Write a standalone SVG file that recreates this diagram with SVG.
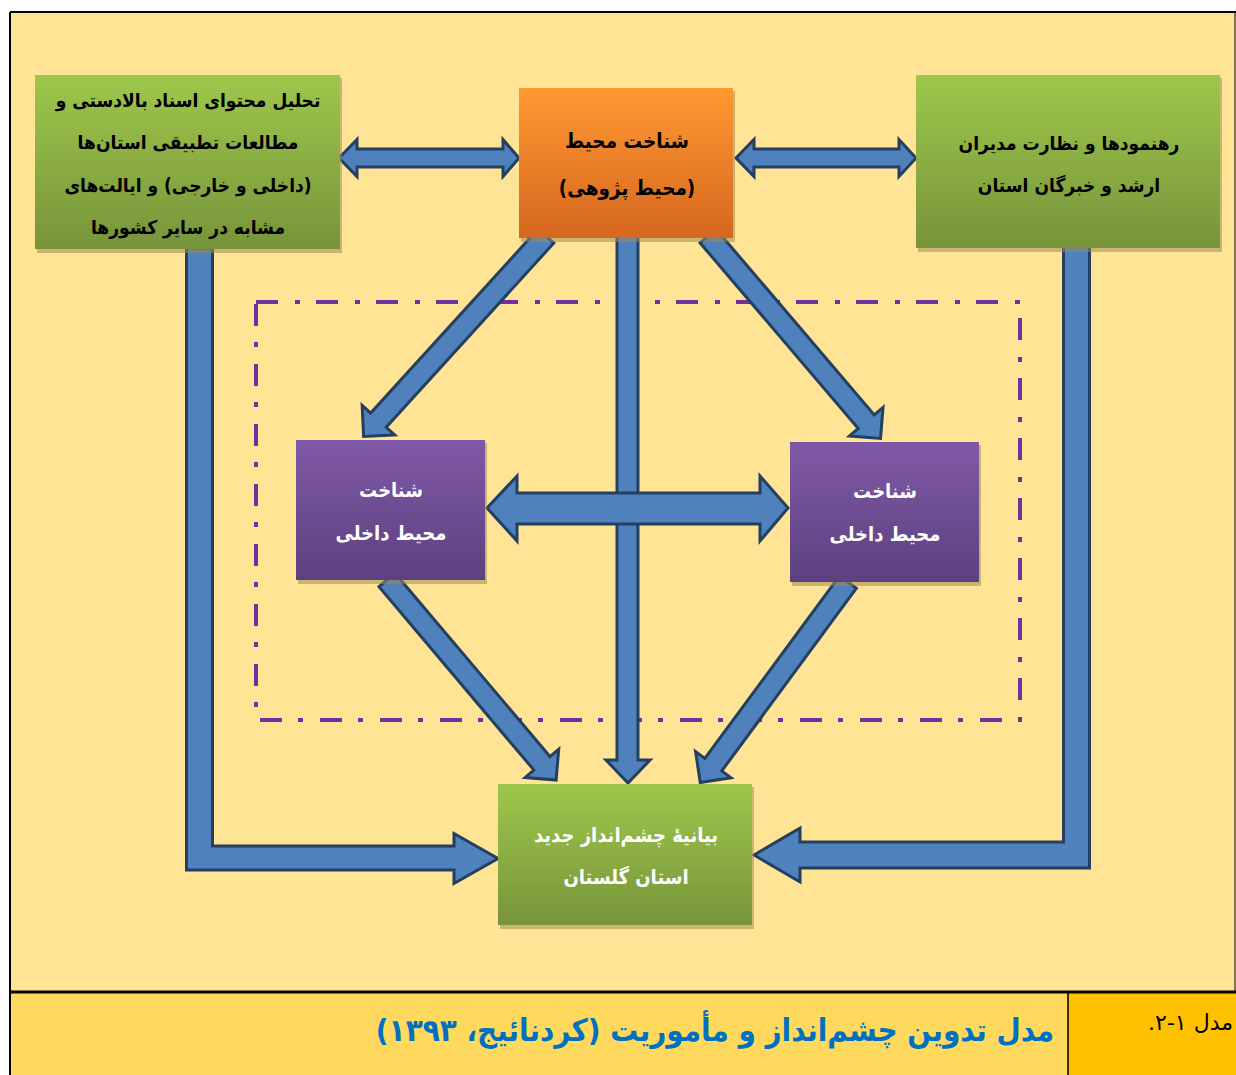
<svg xmlns="http://www.w3.org/2000/svg" width="1236" height="1075" viewBox="0 0 1236 1075">
<defs>
<linearGradient id="gGreen" x1="0" y1="0" x2="0" y2="1"><stop offset="0" stop-color="#9EC74B"/><stop offset="1" stop-color="#77943A"/></linearGradient>
<linearGradient id="gOrange" x1="0" y1="0" x2="0" y2="1"><stop offset="0" stop-color="#FF9831"/><stop offset="1" stop-color="#D6671F"/></linearGradient>
<linearGradient id="gPurple" x1="0" y1="0" x2="0" y2="1"><stop offset="0" stop-color="#7F59A7"/><stop offset="1" stop-color="#5D417F"/></linearGradient>
<style>
.arrow{fill:#4F81BD;stroke:#243F60;stroke-width:3;stroke-linejoin:miter}
.shadow{fill:#A08A55;opacity:0.55}
.t{font-family:"DejaVu Sans Condensed","DejaVu Sans",sans-serif;font-weight:bold;text-anchor:middle;direction:rtl}
.dark{fill:#000}
.light{fill:#fff}
</style>
</defs>
<rect x="0" y="0" width="1236" height="1075" fill="#fff"/>
<rect x="10" y="12" width="1226" height="980" fill="#FFE496"/>
<rect x="10" y="992" width="1058" height="83" fill="#FFD85E"/>
<rect x="1068" y="992" width="168" height="83" fill="#FFC000"/>
<g id="frame" fill="none" stroke="#000">
<path d="M10,12 H1236" stroke-width="2"/>
<path d="M10,12 V1075" stroke-width="2"/>
<path d="M1235,12 V992" stroke-width="1"/>
<path d="M10,992 H1236" stroke-width="3"/>
<path d="M1068,992 V1075" stroke-width="1.5"/>
</g>
<rect id="boundary" x="256" y="302" width="764" height="418" fill="none" stroke="#7030A0" stroke-width="4" stroke-dasharray="22 17 5 16"/>
<g id="connectors">
<path class="arrow" d="M617,236 L638,236 L638,760 L650,760 L628,783 L606,760 L617,760 Z"/>
<path class="arrow" d="M487,508 L517,476 L517,493 L760,493 L760,476 L788,508 L760,541 L760,524 L517,524 L517,541 Z"/>
<path class="arrow" d="M339,158 L357,139.5 L357,149 L503,149 L503,139.5 L519,158 L503,176.5 L503,167 L357,167 L357,176.5 Z"/>
<path class="arrow" d="M736,158 L754,139.5 L754,149 L899,149 L899,139.5 L916,158 L899,176.5 L899,167 L754,167 L754,176.5 Z"/>
<g transform="translate(546,236) rotate(132.3)"><path class="arrow" d="M0,-10.5 L249,-10.5 L249,-22 L271,0 L249,22 L249,10.5 L0,10.5 Z"/></g>
<g transform="translate(708,236) rotate(49.56)"><path class="arrow" d="M0,-10.5 L244,-10.5 L244,-22 L266,0 L244,22 L244,10.5 L0,10.5 Z"/></g>
<g transform="translate(387,580) rotate(49.8)"><path class="arrow" d="M0,-10.5 L240,-10.5 L240,-22 L262,0 L240,22 L240,10.5 L0,10.5 Z"/></g>
<g transform="translate(848,582) rotate(126.4)"><path class="arrow" d="M0,-10.5 L227,-10.5 L227,-22 L249,0 L227,22 L227,10.5 L0,10.5 Z"/></g>
<path class="arrow" d="M186.5,248 L212.5,248 L212.5,846 L454,846 L454,833.5 L498,858.5 L454,883.5 L454,870 L186.5,870 Z"/>
<path class="arrow" d="M1089.5,246 L1063.5,246 L1063.5,842 L800,842 L800,828 L754,855 L800,882 L800,868 L1089.5,868 Z"/>
</g>
<g id="n_left_top">
<rect class="shadow" x="37" y="78" width="305" height="175"/>
<rect x="35" y="75" width="305" height="174" fill="url(#gGreen)"/>
<text class="t dark" font-size="19" x="188" y="107">تحلیل محتوای اسناد بالادستی و</text>
<text class="t dark" font-size="19" x="188" y="149">مطالعات تطبیقی استان‌ها</text>
<text class="t dark" font-size="19" x="188" y="192">(داخلی و خارجی) و ایالت‌های</text>
<text class="t dark" font-size="19" x="188" y="234">مشابه در سایر کشورها</text>
</g>
<g id="n_center_top">
<rect class="shadow" x="521" y="91" width="214" height="151"/>
<rect x="519" y="88" width="214" height="150" fill="url(#gOrange)"/>
<text class="t dark" font-size="20.5" x="627" y="148">شناخت محیط</text>
<text class="t dark" font-size="20.5" x="627" y="195">(محیط پژوهی)</text>
</g>
<g id="n_right_top">
<rect class="shadow" x="918" y="78" width="304" height="174"/>
<rect x="916" y="75" width="304" height="173" fill="url(#gGreen)"/>
<text class="t dark" font-size="19" x="1069" y="150">رهنمودها و نظارت مدیران</text>
<text class="t dark" font-size="19" x="1069" y="192">ارشد و خبرگان استان</text>
</g>
<g id="n_internal_left">
<rect class="shadow" x="298" y="443" width="189" height="141"/>
<rect x="296" y="440" width="189" height="140" fill="url(#gPurple)"/>
<text class="t light" font-size="20" x="391" y="497">شناخت</text>
<text class="t light" font-size="20" x="391" y="540">محیط داخلی</text>
</g>
<g id="n_internal_right">
<rect class="shadow" x="792" y="445" width="189" height="141"/>
<rect x="790" y="442" width="189" height="140" fill="url(#gPurple)"/>
<text class="t light" font-size="20" x="885" y="498">شناخت</text>
<text class="t light" font-size="20" x="885" y="541">محیط داخلی</text>
</g>
<g id="n_vision">
<rect class="shadow" x="500" y="787" width="254" height="142"/>
<rect x="498" y="784" width="254" height="141" fill="url(#gGreen)"/>
<text class="t light" font-size="20" x="626" y="842">بیانیهٔ چشم‌انداز جدید</text>
<text class="t light" font-size="20" x="626" y="884">استان گلستان</text>
</g>
<g id="caption">
<text class="t" font-size="31" fill="#0070C0" x="715" y="1041">مدل تدوین چشم‌انداز و مأموریت (کردنائیج، ۱۳۹۳)</text>
<text font-family="DejaVu Sans, sans-serif" font-size="22" fill="#000" x="1233" y="1030" text-anchor="start" direction="rtl">مدل ۱-۲.</text>
</g>
</svg>
